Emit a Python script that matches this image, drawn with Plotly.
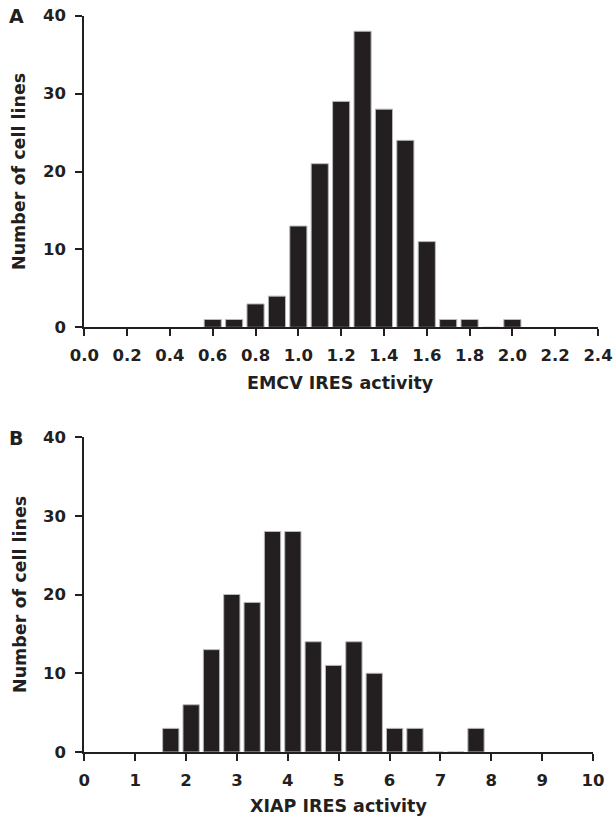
import plotly.graph_objects as go

# Panel A: EMCV IRES activity histogram (bin centres, width 0.1)
emcv_bins = [0.6, 0.7, 0.8, 0.9, 1.0, 1.1, 1.2, 1.3, 1.4, 1.5, 1.6, 1.7, 1.8, 1.9, 2.0]
emcv_counts = [1, 1, 3, 4, 13, 21, 29, 38, 28, 24, 11, 1, 1, 0, 1]
emcv_ticks = [0.0, 0.2, 0.4, 0.6, 0.8, 1.0, 1.2, 1.4, 1.6, 1.8, 2.0, 2.2, 2.4]

# Panel B: XIAP IRES activity histogram (bin centres, width 0.4)
xiap_bins = [1.7, 2.1, 2.5, 2.9, 3.3, 3.7, 4.1, 4.5, 4.9, 5.3, 5.7, 6.1, 6.5, 6.9, 7.3, 7.7]
xiap_counts = [3, 6, 13, 20, 19, 28, 28, 14, 11, 14, 10, 3, 3, 0, 0, 3]
xiap_ticks = list(range(0, 11))

y_ticks = [0, 10, 20, 30, 40]

W, H = 614, 824
INK = "#231f20"
FONT = "DejaVu Sans"


def px_x(p):
    return p / W


def px_y(p):
    return 1 - p / H


fig = go.Figure()
fig.add_trace(go.Bar(x=emcv_bins, y=emcv_counts, width=0.08,
                     marker=dict(color=INK, line=dict(color="#b8b8b8", width=1)),
                     xaxis="x", yaxis="y", showlegend=False))
fig.add_trace(go.Bar(x=xiap_bins, y=xiap_counts, width=0.32,
                     marker=dict(color=INK, line=dict(color="#b8b8b8", width=1)),
                     xaxis="x2", yaxis="y2", showlegend=False))

axis_common = dict(showgrid=False, zeroline=False, showline=True, linecolor=INK,
                   linewidth=2, ticks="outside", ticklen=7, tickwidth=2, tickcolor=INK,
                   tickfont=dict(family=FONT, size=16.5, color=INK, weight="bold"),
                   fixedrange=True, automargin=False)

# Panel A geometry (pixels)
ax_l, ax_r = 84.3, 598
ay_t, ay_b = 15.7, 327.3
# Panel B geometry
bx_l, bx_r = 84.3, 593
by_t, by_b = 437, 752

fig.update_layout(
    template="none",
    width=W, height=H, margin=dict(l=0, r=0, t=0, b=0, autoexpand=False),
    paper_bgcolor="white", plot_bgcolor="white",
    xaxis=dict(domain=[px_x(ax_l), px_x(ax_r)], range=[0, 2.4], tickvals=emcv_ticks,
               ticktext=[f"{v:.1f}" for v in emcv_ticks], anchor="y",
               ticklabelstandoff=5, **axis_common),
    yaxis=dict(domain=[px_y(ay_b), px_y(ay_t)], range=[0, 40], tickvals=y_ticks,
               anchor="x", ticklabelstandoff=6, **axis_common),
    xaxis2=dict(domain=[px_x(bx_l), px_x(bx_r)], range=[0, 10], tickvals=xiap_ticks,
                anchor="y2", ticklabelstandoff=5, **axis_common),
    yaxis2=dict(domain=[px_y(by_b), px_y(by_t)], range=[0, 40], tickvals=y_ticks,
                anchor="x2", ticklabelstandoff=6, **axis_common),
    bargap=0.2,
)

title_font = dict(family=FONT, size=17.5, color=INK, weight="bold")
letter_font = dict(family=FONT, size=19, color=INK, weight="bold")

annotations = [
    dict(text="A", x=px_x(16), y=px_y(16.5), font=letter_font),
    dict(text="B", x=px_x(16), y=px_y(438), font=letter_font),
    dict(text="EMCV IRES activity", x=px_x(340), y=px_y(383), font=title_font),
    dict(text="XIAP IRES activity", x=px_x(338), y=px_y(806), font=title_font),
    dict(text="Number of cell lines", x=px_x(19.5), y=px_y((ay_t + ay_b) / 2),
         textangle=-90, font=title_font),
    dict(text="Number of cell lines", x=px_x(19.5), y=px_y((by_t + by_b) / 2),
         textangle=-90, font=title_font),
]
for a in annotations:
    a.update(xref="paper", yref="paper", showarrow=False, xanchor="center", yanchor="middle")
fig.update_layout(annotations=annotations)

fig.write_html("out.html",
               config={"displayModeBar": False, "staticPlot": True},
               post_script="document.body.style.margin='0px';document.body.style.padding='0px';")
